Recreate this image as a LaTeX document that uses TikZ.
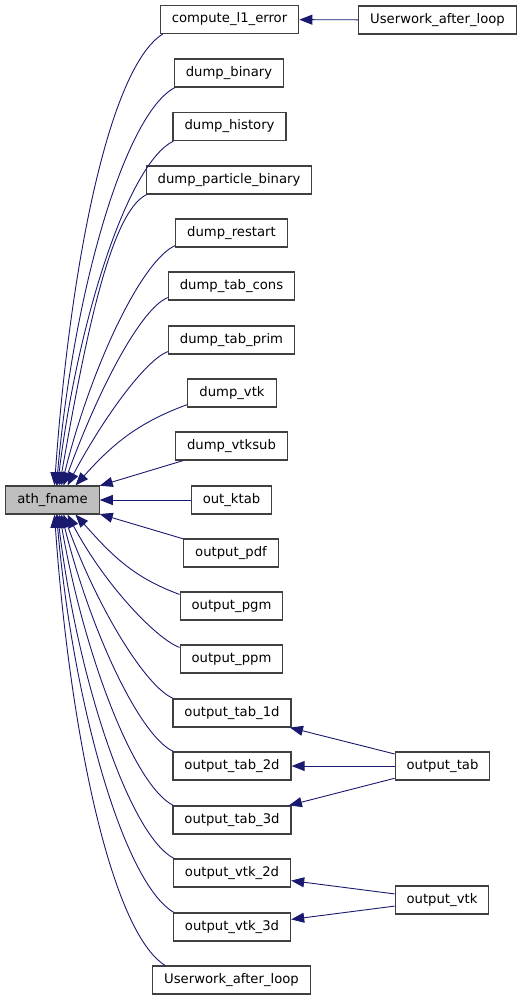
\documentclass[tikz,border=0pt]{standalone}
\usepackage{fontspec}
\setmainfont{DejaVu Sans}
\usetikzlibrary{arrows.meta}
\definecolor{edgeblue}{HTML}{191970}
\definecolor{focusgray}{HTML}{BFBFBF}
\begin{document}
\begin{tikzpicture}[x=1pt, y=1pt,
  fn/.style={draw=black!75, line width=1.2pt, inner xsep=11.5pt, inner ysep=0pt, minimum height=28pt, font=\fontsize{13.2}{15}\selectfont},
  call/.style={draw=edgeblue, line width=0.9pt, -{Triangle[length=13pt, width=10pt]}},
  longcall/.style={call, out looseness=0.35, in looseness=1.2}]
\useasboundingbox (0,0) rectangle (528,-1000);
\node[fn, fill=focusgray] (ath) at (52.5,-500) {ath\_fname};
\node[fn] (cl1) at (229.5,-19.5) {compute\_l1\_error};
\node[fn] (uwa1) at (437.5,-20) {Userwork\_after\_loop};
\node[fn] (dbin) at (229,-73) {dump\_binary};
\node[fn] (dhist) at (229.5,-126.5) {dump\_history};
\node[fn] (dpart) at (229,-180) {dump\_particle\_binary};
\node[fn] (drest) at (231.5,-233) {dump\_restart};
\node[fn] (dtcons) at (231.5,-286) {dump\_tab\_cons};
\node[fn] (dtprim) at (231.5,-340) {dump\_tab\_prim};
\node[fn] (dvtk) at (232,-393) {dump\_vtk};
\node[fn] (dvsub) at (231.5,-446) {dump\_vtksub};
\node[fn] (oktab) at (231.5,-500) {out\_ktab};
\node[fn] (opdf) at (231,-553) {output\_pdf};
\node[fn] (opgm) at (231.5,-606) {output\_pgm};
\node[fn] (oppm) at (231.5,-659) {output\_ppm};
\node[fn] (ot1) at (232,-713) {output\_tab\_1d};
\node[fn] (ot2) at (232,-766) {output\_tab\_2d};
\node[fn] (ot3) at (232,-820) {output\_tab\_3d};
\node[fn] (ov2) at (232,-873) {output\_vtk\_2d};
\node[fn] (ov3) at (232,-927) {output\_vtk\_3d};
\node[fn] (uwa2) at (231.5,-980) {Userwork\_after\_loop};
\node[fn] (otab) at (442.5,-766) {output\_tab};
\node[fn] (ovtk) at (442,-900) {output\_vtk};
% callers above
\draw[longcall] ([xshift=3pt]cl1.south west) to[out=212, in=86] ([xshift=2pt]ath.north);
\draw[longcall] ([xshift=1pt]dbin.south west) to[out=208, in=85] ([xshift=4pt]ath.north);
\draw[longcall] ([xshift=1pt]dhist.south west) to[out=206, in=83] ([xshift=5pt]ath.north);
\draw[longcall] ([xshift=1pt]dpart.south west) to[out=206, in=80] ([xshift=7pt]ath.north);
\draw[longcall] ([yshift=2pt]drest.south west) to[out=204, in=76] ([xshift=9pt]ath.north);
\draw[longcall] ([yshift=3pt]dtcons.south west) to[out=202, in=70] ([xshift=11pt]ath.north);
\draw[longcall] ([yshift=3pt]dtprim.south west) to[out=200, in=62] ([xshift=15pt]ath.north);
\draw[call] ([yshift=3pt]dvtk.south west) to[out=200, in=48] ([xshift=23pt]ath.north);
\draw[call] (dvsub) -- (ath);
\draw[call] (oktab) -- (ath);
\draw[call] (opdf) -- (ath);
% callers below
\draw[call] ([yshift=-3pt]opgm.north west) to[out=160, in=-48] ([xshift=23pt]ath.south);
\draw[longcall] ([yshift=-3pt]oppm.north west) to[out=160, in=-62] ([xshift=15pt]ath.south);
\draw[longcall] ([xshift=1pt]ot1.north west) to[out=158, in=-70] ([xshift=11pt]ath.south);
\draw[longcall] ([xshift=1pt]ot2.north west) to[out=156, in=-76] ([xshift=9pt]ath.south);
\draw[longcall] ([xshift=1pt]ot3.north west) to[out=154, in=-80] ([xshift=7pt]ath.south);
\draw[longcall] ([xshift=1pt]ov2.north west) to[out=152, in=-83] ([xshift=5pt]ath.south);
\draw[longcall] ([xshift=1pt]ov3.north west) to[out=150, in=-85] ([xshift=4pt]ath.south);
\draw[longcall] ([xshift=13pt]uwa2.north west) to[out=148, in=-86] ([xshift=2pt]ath.south);
% second level
\draw[call] (uwa1) -- (cl1);
\draw[call] (otab) -- (ot1);
\draw[call] (otab) -- (ot2);
\draw[call] (otab) -- (ot3);
\draw[call] (ovtk) -- (ov2);
\draw[call] (ovtk) -- (ov3);
\end{tikzpicture}
\end{document}
